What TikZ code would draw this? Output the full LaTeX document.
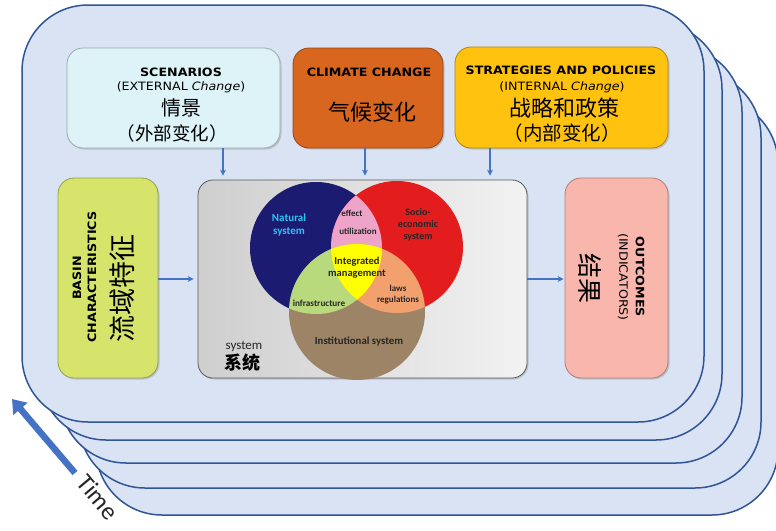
\documentclass[tikz,border=0pt]{standalone}
\usepackage{fontspec}
\setmainfont{Carlito}
\newfontfamily\cjk{Noto Sans CJK SC}
\newfontfamily\comic{DejaVu Sans}
\usetikzlibrary{shadows,arrows.meta}
\newcommand{\wideb}[1]{\scalebox{1.1}[1]{#1}}
\definecolor{sheetfill}{HTML}{DAE3F3}
\definecolor{sheetline}{HTML}{2F5597}
\definecolor{arrblue}{HTML}{4472C4}
\definecolor{scenfill}{HTML}{DDF3F8}
\definecolor{climfill}{HTML}{D9661E}
\definecolor{stratfill}{HTML}{FFC20E}
\definecolor{basinfill}{HTML}{D6E46C}
\definecolor{outfill}{HTML}{F8B6AC}
\definecolor{natcol}{HTML}{1B1B72}
\definecolor{soccol}{HTML}{E31D1D}
\definecolor{inscol}{HTML}{9E8466}
\definecolor{pinkcol}{HTML}{EEA3C8}
\definecolor{greencol}{HTML}{B8D97C}
\definecolor{orangecol}{HTML}{F2A06E}
\definecolor{yelcol}{HTML}{FFFF00}
\definecolor{natlab}{HTML}{2EC4F2}
\tikzset{
  sheet/.style={draw=sheetline, fill=sheetfill, line width=1.5pt, rounded corners=66pt},
  box/.style={draw=#1!70!black, line width=0.8pt, rounded corners=16pt, inner sep=0pt,
     drop shadow={opacity=0.35, shadow xshift=1.5pt, shadow yshift=-1.5pt}},
  arr/.style={draw=arrblue, line width=1.1pt, -{Stealth[length=6pt,width=6pt]}},
  entitle/.style={font=\comic\bfseries\fontsize{11.5}{13}\selectfont, inner sep=0pt},
  ensub/.style={font=\comic\fontsize{11.5}{13}\selectfont, inner sep=0pt},
  zh/.style={font=\cjk\fontsize{#1}{#1}\selectfont, inner sep=0pt},
  venn/.style={font=\bfseries\fontsize{10}{11.5}\selectfont, align=center, inner sep=0pt, text=black!85},
}
\begin{document}
\begin{tikzpicture}[x=1pt,y=-1pt]
\useasboundingbox (0,0) rectangle (776,530);
\fill[white] (0,0) rectangle (776,530);
% stacked sheets
\foreach \dx/\dy in {74/93, 57/66, 38/41, 18/18, 0/0}{
  \draw[sheet] (22+\dx,5+\dy) rectangle (704+\dx,422+\dy);
}
% time arrow
\coordinate (t0) at (75,473);
\coordinate (t1) at (12,399);
\draw[arrblue, line width=6.5pt, -{Triangle[length=13pt,width=18pt]}] (t0) -- (t1);
\node[rotate=-50, font=\fontsize{25}{25}\selectfont, text=black!85, inner sep=0pt] (time) at (98,497) {Time};
% top boxes
\node[box=scenfill, fill=scenfill, minimum width=213pt, minimum height=100pt] (scen) at (173.5,98) {};
\node[box=climfill, fill=climfill, minimum width=150pt, minimum height=100pt] (clim) at (368,98) {};
\node[box=stratfill, fill=stratfill, minimum width=213pt, minimum height=101pt] (strat) at (561.5,97.5) {};
\node[entitle] (scen1) at (181,72) {\wideb{SCENARIOS}};
\node[ensub] (scen2) at (181,87) {\wideb{(EXTERNAL \textit{Change})}};
\node[zh=20] (scen3) at (181,108) {情景};
\node[zh=18.5] (scen4) at (172,133) {（外部变化）};
\node[entitle] (clim1) at (369,72) {\wideb{CLIMATE CHANGE}};
\node[zh=22] (clim2) at (372,112) {气候变化};
\node[entitle] (strat1) at (561,70) {\wideb{STRATEGIES AND POLICIES}};
\node[ensub] (strat2) at (562,87) {\wideb{(INTERNAL \textit{Change})}};
\node[zh=22] (strat3) at (564,108) {战略和政策};
\node[zh=19.5] (strat4) at (562,133) {（内部变化）};
% middle row
\node[box=basinfill, fill=basinfill, minimum width=100pt, minimum height=200pt] (basin) at (108,278) {};
\node[box=gray, left color=gray!38, right color=gray!10, draw=gray!70!black, minimum width=329pt, minimum height=198pt, rounded corners=15pt] (sys) at (362.5,279) {};
\node[box=outfill, fill=outfill, minimum width=103pt, minimum height=200pt] (out) at (616.5,278) {};
\node[entitle, rotate=90] (basin1) at (77,278) {\wideb{BASIN}};
\node[entitle, rotate=90] (basin2) at (92,277) {\wideb{CHARACTERISTICS}};
\node[zh=27, rotate=90] (basin3) at (122,288) {流域特征};
\node[entitle, rotate=-90] (out1) at (640,277) {\wideb{OUTCOMES}};
\node[ensub, rotate=-90] (out2) at (623,277) {\wideb{(INDICATORS)}};
\node[zh=25, rotate=-90] (out3) at (590,278) {结果};
% arrows
\coordinate (ax1) at (223,0);
\coordinate (ax2) at (365,0);
\coordinate (ax3) at (490,0);
\draw[arr] (scen.south -| ax1) -- ([yshift=4pt]sys.north -| ax1);
\draw[arr] (clim.south -| ax2) -- ([yshift=4pt]sys.north -| ax2);
\draw[arr] (strat.south -| ax3) -- ([yshift=4pt]sys.north -| ax3);
\draw[arr] (basin.east |- 0,279) -- ([xshift=-4pt]sys.west |- 0,279);
\draw[arr] (sys.east |- 0,279) -- ([xshift=-1pt]out.west |- 0,279);
% venn
\coordinate (N) at (316,248);
\coordinate (S) at (397,247);
\coordinate (I) at (357,312);
\fill[natcol] (N) circle[radius=66pt];
\fill[soccol] (S) circle[radius=66pt];
\fill[inscol] (I) circle[radius=68pt];
\begin{scope}
  \clip (N) circle[radius=66pt];
  \fill[pinkcol] (S) circle[radius=66pt];
  \fill[greencol] (I) circle[radius=68pt];
\end{scope}
\begin{scope}
  \clip (S) circle[radius=66pt];
  \fill[orangecol] (I) circle[radius=68pt];
\end{scope}
\begin{scope}
  \clip (N) circle[radius=66pt];
  \clip (S) circle[radius=66pt];
  \fill[yelcol] (I) circle[radius=68pt];
\end{scope}
\node[venn, text=natlab, font=\bfseries\fontsize{11}{13}\selectfont] (v1) at (289,225) {Natural\\system};
\node[venn, font=\bfseries\fontsize{10}{12}\selectfont] (v2) at (418,225) {Socio-\\economic\\system};
\node[venn, font=\bfseries\fontsize{9}{10}\selectfont] (v3) at (352,213) {effect};
\node[venn, font=\bfseries\fontsize{9}{10}\selectfont] (v4) at (358,231) {utilization};
\node[venn, font=\bfseries\fontsize{10.5}{12}\selectfont] (v5) at (357,268) {Integrated\\management};
\node[venn, font=\bfseries\fontsize{9}{11}\selectfont] (v6) at (398,295) {laws\\regulations};
\node[venn, font=\bfseries\fontsize{9.2}{10}\selectfont] (v7) at (319,303) {infrastructure};
\node[venn, font=\bfseries\fontsize{10.8}{12}\selectfont] (v8) at (359,342) {Institutional system};
% system label
\node[font=\fontsize{13}{13}\selectfont, inner sep=0pt, text=black!85] (sys1) at (244,346) {system};
\node[font=\cjk\bfseries\fontsize{18}{18}\selectfont, inner sep=0pt] (sys2) at (242,363) {系统};
\end{tikzpicture}
\end{document}
